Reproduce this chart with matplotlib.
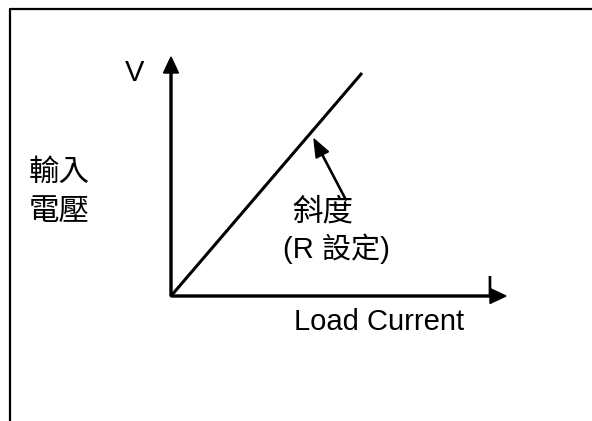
import matplotlib
matplotlib.use("Agg")
import matplotlib.pyplot as plt

plt.rcParams['font.family'] = ['Liberation Sans', 'Noto Sans CJK TC', 'DejaVu Sans']

# diagram values (units: pixels relative to the origin of the V / I axes)
current = [0, 191]
voltage = [0, 223]
v_axis_top = 239
i_axis_end = 335
slope_tail = (175, 96)
slope_tip = (143, 157)

fig = plt.figure(figsize=(5.92, 4.21), dpi=100)
ax = fig.add_axes([0, 0, 1, 1])
ax.set_xlim(-171, 421)
ax.set_ylim(-125, 296)
ax.axis('off')

# frame (top and left only)
ax.plot([-161, -161, 421], [-125, 287, 287], color='black', lw=1.6, solid_capstyle='projecting')

# axes with arrows
ax.arrow(0, 0, 0, v_axis_top, width=2, head_width=15, head_length=16,
         length_includes_head=True, color='black')
ax.arrow(0, 0, i_axis_end, 0, width=2, head_width=15, head_length=16,
         length_includes_head=True, color='black')

# load line
ax.plot(current, voltage, color='black', lw=2.2, solid_capstyle='butt')

# slope pointer
ax.arrow(slope_tail[0], slope_tail[1], slope_tip[0] - slope_tail[0], slope_tip[1] - slope_tail[1],
         width=1.2, head_width=14, head_length=18, length_includes_head=True, color='black')

fs = 21
fs_cjk = 22
ax.text(-36.5, 215, 'V', fontsize=fs, ha='center', va='baseline')
ax.text(318, 0, 'I', fontsize=fs, ha='center', va='baseline')
ax.text(123, -34, 'Load Current', fontsize=fs, ha='left', va='baseline')
ax.text(-111.5, 123.5, '輸入', fontsize=fs_cjk, ha='center', va='center')
ax.text(-111.5, 84, '電壓', fontsize=fs_cjk, ha='center', va='center')
ax.text(151.5, 83.5, '斜度', fontsize=fs_cjk, ha='center', va='center')
ax.text(165, 47, '(R 設定)', fontsize=fs, ha='center', va='center')

fig.savefig('out.png', dpi=100)
